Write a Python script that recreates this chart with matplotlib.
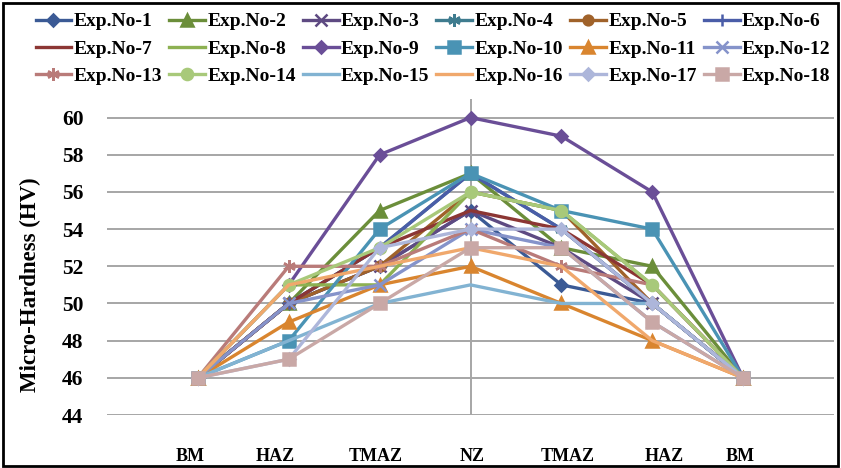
import matplotlib.pyplot as plt
from matplotlib.patches import Rectangle

zones = ['BM', 'HAZ', 'TMAZ', 'NZ', 'TMAZ', 'HAZ', 'BM']
# where the zone names sit along the axis (they are not exactly under the points)
zone_label_pos = [-0.09, 0.85, 1.96, 3.02, 4.07, 5.13, 5.97]

exp1 = [46, 50, 52, 55, 51, 50, 46]
exp2 = [46, 50, 55, 57, 53, 52, 46]
exp3 = [46, 50, 52, 55, 53, 50, 46]
exp4 = [46, 50, 53, 57, 54, 50, 46]
exp5 = [46, 50, 52, 56, 55, 50, 46]
exp6 = [46, 50, 53, 57, 54, 50, 46]
exp7 = [46, 50, 53, 55, 54, 51, 46]
exp8 = [46, 51, 51, 56, 55, 51, 46]
exp9 = [46, 51, 58, 60, 59, 56, 46]
exp10 = [46, 48, 54, 57, 55, 54, 46]
exp11 = [46, 49, 51, 52, 50, 48, 46]
exp12 = [46, 50, 51, 54, 53, 49, 46]
exp13 = [46, 52, 52, 54, 52, 51, 46]
exp14 = [46, 51, 53, 56, 55, 51, 46]
exp15 = [46, 48, 50, 51, 50, 50, 46]
exp16 = [46, 51, 52, 53, 52, 48, 46]
exp17 = [46, 47, 53, 54, 54, 50, 46]
exp18 = [46, 47, 50, 53, 53, 49, 46]

series = [exp1, exp2, exp3, exp4, exp5, exp6, exp7, exp8, exp9,
          exp10, exp11, exp12, exp13, exp14, exp15, exp16, exp17, exp18]
names = ['Exp.No-%d' % (i + 1) for i in range(18)]

colors = ['#3B5A95', '#6B8E3A', '#5E4A82', '#3F7C8F', '#A0622A', '#4A5DA8',
          '#8C3634', '#8DB152', '#6A4E97', '#4A93B4', '#D9852F', '#8593CA',
          '#B97B79', '#A8C97A', '#82B3D2', '#F0A86C', '#ADB6DA', '#C9A8A6']
asterisk = (6, 2, 0)
markers = ['D', '^', 'x', asterisk, 'o', '+', None, None, 'D',
           's', '^', 'x', asterisk, 'o', None, None, 'D', 's']
msizes = [6, 8, 8, 9, 7, 9, 0, 0, 6, 9, 8, 8, 9, 8, 0, 0, 6, 9]

plt.rcParams['font.family'] = ['Liberation Serif', 'DejaVu Serif']
plt.rcParams['font.weight'] = 'bold'

fig = plt.figure(figsize=(8.41, 4.68), dpi=100)
ax = fig.add_axes([107 / 841, 1 - 415 / 468, 727 / 841, 316 / 468])

x = list(range(len(zones)))
handles = []
for s, name, c, m, ms in zip(series, names, colors, markers, msizes):
  h, = ax.plot(x, s, color=c, lw=2.4, marker=m, markersize=ms,
               markeredgewidth=1.8, label=name, zorder=3)
  handles.append(h)

ax.set_xlim(-1, 7)
ax.set_ylim(44, 61)
ax.set_yticks(range(44, 61, 2))
ax.grid(axis='y', color='#A6A6A6', linewidth=1.4)
ax.axvline(3, color='#A6A6A6', linewidth=1.4, zorder=1)
ax.set_axisbelow(True)
for sp in ax.spines.values():
  sp.set_visible(False)

ax.set_xticks(zone_label_pos)
ax.set_xticklabels(zones, fontsize=13, fontweight='bold')
ax.tick_params(axis='x', length=0, pad=24)
ax.tick_params(axis='y', length=0, pad=17, labelsize=15.5)

fig.text(30 / 841, 1 - 285 / 468, 'Micro-Hardness (HV)', rotation=90,
         ha='center', va='center', fontsize=16.5, fontweight='bold')

# legend is filled row by row in the original
order = [r * 6 + c for c in range(6) for r in range(3)]
fig.legend([handles[i] for i in order], [names[i] for i in order],
           loc='center', bbox_to_anchor=(433 / 841, 1 - 49 / 468), ncol=6,
           frameon=False, fontsize=14, handlelength=1.85, handletextpad=0.12,
           columnspacing=0.35, labelspacing=0.5, borderpad=0.2)

fig.patches.append(Rectangle((0.003, 0.004), 0.994, 0.99, transform=fig.transFigure,
                             fill=False, edgecolor='black', linewidth=2))

plt.savefig('out.png', dpi=100)
